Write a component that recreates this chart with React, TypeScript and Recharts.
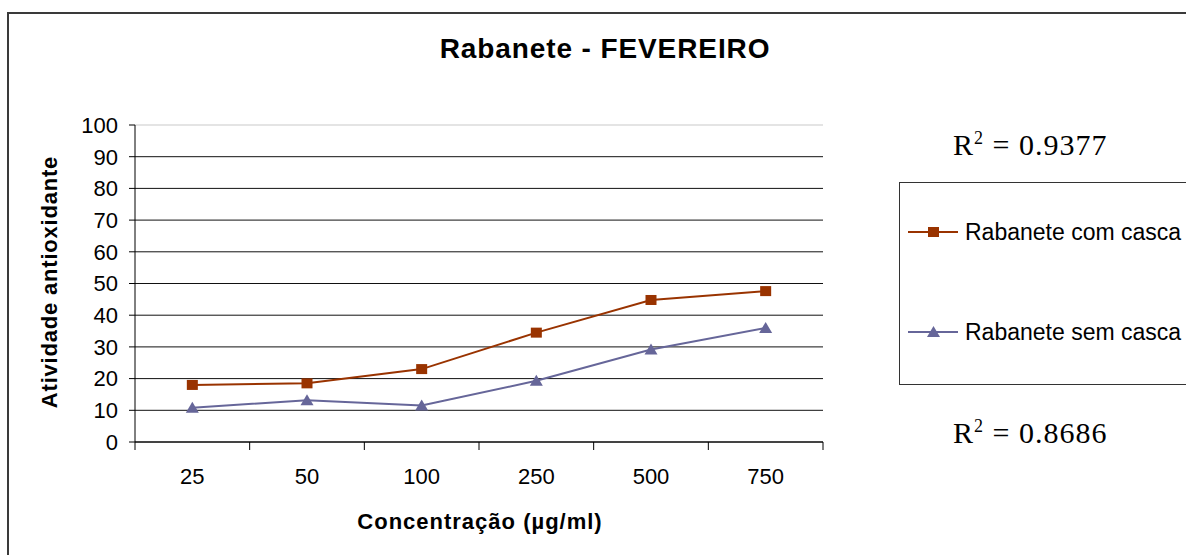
import React from 'react';
import { LineChart, Line, XAxis, YAxis, CartesianGrid, ReferenceLine, Legend } from 'recharts';

const categories = ['25', '50', '100', '250', '500', '750'];
const comCasca = [18, 18.5, 23, 34.5, 44.8, 47.6];
const semCasca = [10.8, 13.2, 11.5, 19.3, 29.2, 36];
const yTicks = [0, 10, 20, 30, 40, 50, 60, 70, 80, 90, 100];
const seriesNames = ['Rabanete com casca', 'Rabanete sem casca'];
const r2Values = ['0.9377', '0.8686'];
const title = 'Rabanete - FEVEREIRO';
const xTitle = 'Concentração (µg/ml)';
const yTitle = 'Atividade antioxidante';

const RED = '#993300';
const BLUE = '#666699';
const SANS = '"Liberation Sans", Arial, sans-serif';
const SERIF = '"Liberation Serif", "Times New Roman", serif';

const data = categories.map((c, i) => ({ x: i + 0.5, label: c, com: comCasca[i], sem: semCasca[i] }));
const xTicks: number[] = [];
for (let i = 0; i <= categories.length * 2; i++) xTicks.push(i / 2);

const SquareDot = (p: any) => {
  if (p.cx == null || p.cy == null) return <g key={`s${p.index}`} />;
  return <rect key={`s${p.index}`} x={p.cx - 5.5} y={p.cy - 5} width={11} height={10} fill={RED} />;
};
const TriangleDot = (p: any) => {
  if (p.cx == null || p.cy == null) return <g key={`t${p.index}`} />;
  const { cx, cy } = p;
  return <polygon key={`t${p.index}`} points={`${cx},${cy - 6} ${cx + 6.5},${cy + 5} ${cx - 6.5},${cy + 5}`} fill={BLUE} />;
};

const XTick = (props: any) => {
  const { x, y, payload } = props;
  const v = payload.value as number;
  if (Number.isInteger(v)) {
    return <line x1={x} y1={y} x2={x} y2={y + 8} stroke="#000" strokeWidth={1} />;
  }
  const idx = Math.floor(v);
  return (
    <text x={x} y={y + 42} textAnchor="middle" fontFamily={SANS} fontSize={22} fill="#000">
      {categories[idx]}
    </text>
  );
};

const renderLegend = (props: any) => {
  const payload = props.payload || [];
  return (
    <svg width={300} height={204} style={{ display: 'block' }}>
      <rect x={0.5} y={0.5} width={320} height={202} fill="#fff" stroke="#333" strokeWidth={1} />
      {payload.map((entry: any, i: number) => {
        const cy = 50 + i * 100;
        const color = entry.color;
        const isCom = entry.dataKey === 'com';
        return (
          <g key={`leg${i}`}>
            <line x1={9} y1={cy} x2={59} y2={cy} stroke={color} strokeWidth={2} />
            {isCom ? (
              <rect x={29} y={cy - 5} width={11} height={10} fill={color} />
            ) : (
              <polygon points={`34.5,${cy - 6} 41,${cy + 5} 28,${cy + 5}`} fill={color} />
            )}
            <text x={66} y={cy + 8} fontFamily={SANS} fontSize={23} fill="#000">
              {entry.value}
            </text>
          </g>
        );
      })}
    </svg>
  );
};

export default function App() {
  return (
    <div style={{ position: 'fixed', left: 0, top: 0, width: 1186, height: 555, overflow: 'hidden', background: '#fff' }}>
      <div
        style={{
          position: 'absolute',
          left: 7,
          top: 12,
          width: 1250,
          height: 600,
          border: '2px solid #3a3a3a',
          boxSizing: 'border-box',
        }}
      />
      <div style={{ position: 'absolute', left: 0, top: 0 }}>
        <LineChart width={1186} height={555} data={data} margin={{ top: 125, right: 363, bottom: 73, left: 35 }}>
          <CartesianGrid horizontal vertical={false} stroke="#111" strokeWidth={1} />
          <ReferenceLine y={100} stroke="#e4e4e4" strokeWidth={2} />
          <XAxis
            dataKey="x"
            type="number"
            domain={[0, categories.length]}
            ticks={xTicks}
            interval={0}
            tickSize={0}
            tickMargin={0}
            tickLine={false}
            height={40}
            stroke="#000"
            tick={<XTick />}
          />
          <YAxis
            type="number"
            domain={[0, 100]}
            ticks={yTicks}
            interval={0}
            width={100}
            tickSize={6}
            tickMargin={11}
            stroke="#000"
            tick={{ fill: '#000', fontSize: 22, fontFamily: SANS }}
          />
          <Legend
            layout="horizontal"
            align="center"
            verticalAlign="middle"
            content={renderLegend}
            wrapperStyle={{ left: 899, top: 182, width: 300, height: 204, right: 'auto', bottom: 'auto' }}
          />
          <Line
            type="linear"
            dataKey="com"
            name={seriesNames[0]}
            stroke={RED}
            strokeWidth={2}
            dot={SquareDot}
            activeDot={false}
            isAnimationActive={false}
          />
          <Line
            type="linear"
            dataKey="sem"
            name={seriesNames[1]}
            stroke={BLUE}
            strokeWidth={2}
            dot={TriangleDot}
            activeDot={false}
            isAnimationActive={false}
          />
        </LineChart>
      </div>
      <svg width={1186} height={555} style={{ position: 'absolute', left: 0, top: 0, pointerEvents: 'none' }}>
        <text x={605} y={58} textAnchor="middle" fontFamily={SANS} fontWeight="bold" fontSize={28} letterSpacing={0.9} fill="#000">
          {title}
        </text>
        <text x={480} y={529} textAnchor="middle" fontFamily={SANS} fontWeight="bold" fontSize={22} letterSpacing={1} fill="#000">
          {xTitle}
        </text>
        <text
          x={57}
          y={282}
          transform="rotate(-90 57 282)"
          textAnchor="middle"
          fontFamily={SANS}
          fontWeight="bold"
          fontSize={22}
          letterSpacing={0.8}
          fill="#000"
        >
          {yTitle}
        </text>
        <text x={953} y={155} fontFamily={SERIF} fontSize={30} letterSpacing={1} fill="#000">
          R<tspan dy={-11} fontSize={18}>2</tspan>
          <tspan dy={11}>{` = ${r2Values[0]}`}</tspan>
        </text>
        <text x={953} y={443} fontFamily={SERIF} fontSize={30} letterSpacing={1} fill="#000">
          R<tspan dy={-11} fontSize={18}>2</tspan>
          <tspan dy={11}>{` = ${r2Values[1]}`}</tspan>
        </text>
      </svg>
    </div>
  );
}
